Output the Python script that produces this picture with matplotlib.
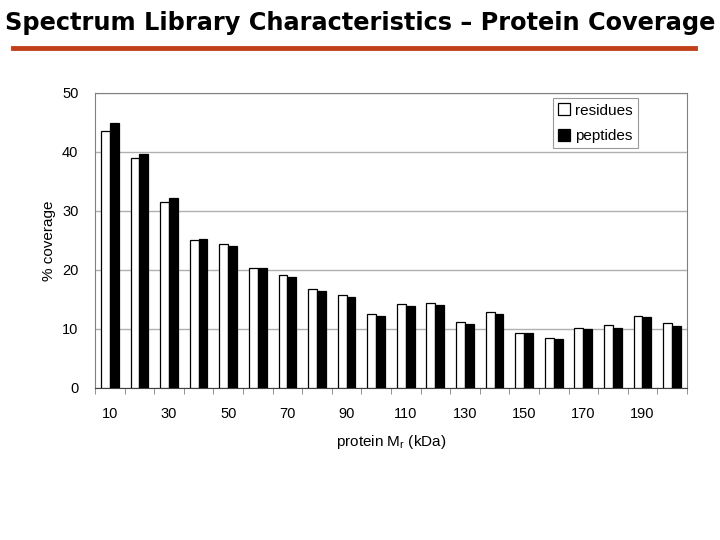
import numpy as np
import matplotlib
matplotlib.use("Agg")
from matplotlib import pyplot as plt
from matplotlib.lines import Line2D

plt.rcParams['font.family'] = ['Liberation Sans', 'DejaVu Sans']
plt.rcParams['mathtext.fontset'] = 'custom'
plt.rcParams['mathtext.rm'] = 'Liberation Sans'

# protein mass bins (kDa) and coverage values
mass = [10, 20, 30, 40, 50, 60, 70, 80, 90, 100,
        110, 120, 130, 140, 150, 160, 170, 180, 190, 200]
residues = [43.6, 39.0, 31.5, 25.1, 24.4, 20.4, 19.2, 16.8, 15.7, 12.5,
            14.2, 14.4, 11.1, 12.9, 9.4, 8.4, 10.1, 10.6, 12.2, 11.0]
peptides = [44.9, 39.7, 32.2, 25.3, 24.1, 20.4, 18.8, 16.4, 15.4, 12.2,
            13.9, 14.1, 10.8, 12.5, 9.3, 8.3, 10.0, 10.1, 12.0, 10.5]

fig = plt.figure(figsize=(7.2, 5.4), dpi=100)

# title and the red rule under it
fig.text(0.5, 0.958, 'Spectrum Library Characteristics \u2013 Protein Coverage',
         ha='center', va='center', fontsize=17.3, fontweight='bold',
         family=['DejaVu Sans'])
fig.add_artist(Line2D([0.018, 0.965], [0.911, 0.911], color='#C0401A', lw=3.5))

ax = fig.add_axes([0.132, 0.2815, 0.822, 0.5463])
x = np.arange(len(mass))
w = 0.3
ax.bar(x - w / 2, residues, w, color='white', edgecolor='black', lw=0.9,
       label='residues', zorder=3)
ax.bar(x + w / 2, peptides, w, color='black', edgecolor='black', lw=0.9,
       label='peptides', zorder=3)

ax.set_xlim(-0.5, len(mass) - 0.5)
ax.set_ylim(0, 50)
ax.set_yticks(range(0, 51, 10))
ax.yaxis.grid(True, color='#b0b0b0', lw=1)
ax.set_axisbelow(True)

ax.set_xticks(x[::2])
ax.set_xticklabels([str(m) for m in mass[::2]])
ax.set_xticks(np.arange(-0.5, len(mass), 1), minor=True)
ax.tick_params(axis='x', which='major', length=0, pad=14, labelsize=10.5)
ax.tick_params(axis='x', which='minor', length=4, color='#808080')
ax.tick_params(axis='y', length=0, pad=12, labelsize=10.5)

for s in ax.spines.values():
    s.set_color('#808080')
ax.spines['bottom'].set_color('#404040')

ax.set_ylabel('% coverage', fontsize=11, labelpad=4)
ax.set_xlabel('protein M$_\\mathrm{r}$ (kDa)', fontsize=11, labelpad=8)

leg = ax.legend(loc='upper right', bbox_to_anchor=(0.917, 0.983), fontsize=11,
                frameon=True, fancybox=False, edgecolor='#808080',
                handlelength=0.8, handleheight=0.8, handletextpad=0.3,
                borderpad=0.35, labelspacing=0.75, borderaxespad=0)
leg.get_frame().set_linewidth(0.8)

fig.savefig('out.png', dpi=100)
